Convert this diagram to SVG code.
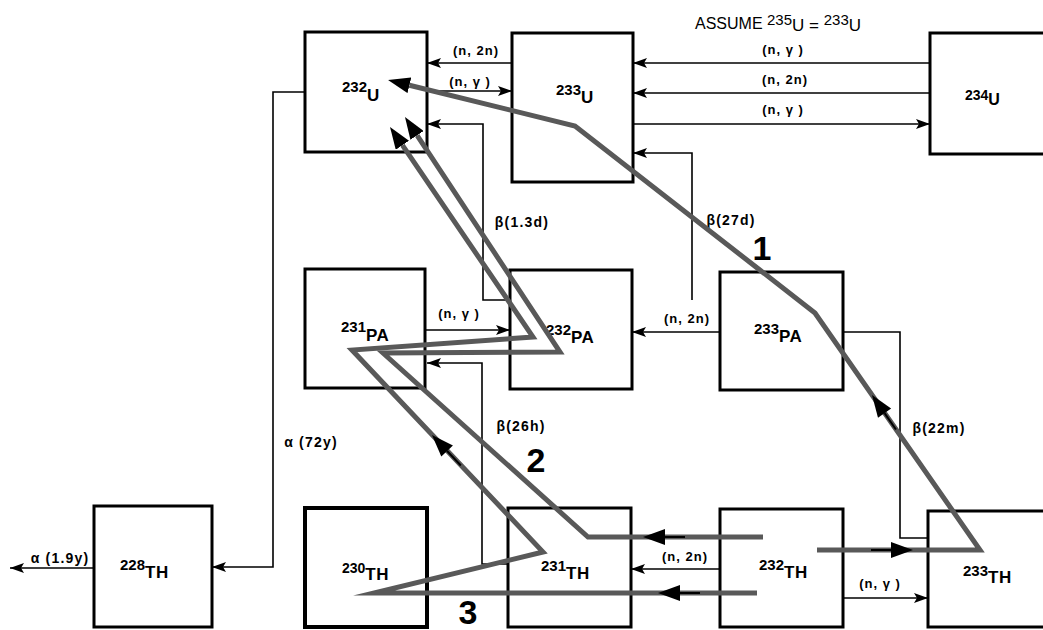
<svg xmlns="http://www.w3.org/2000/svg" xmlns:xlink="http://www.w3.org/1999/xlink" width="1043" height="630" viewBox="0 0 1043 630">
<style>
.box{fill:#fff;stroke:#000;stroke-width:3}
.conn{fill:none;stroke:#000;stroke-width:1.6}
.gp{fill:none;stroke:#595959;stroke-width:5;stroke-linejoin:miter;stroke-miterlimit:12}
.nl{font-family:"Liberation Sans",Arial,sans-serif;fill:#000;font-weight:bold}
.dg{font-size:15px}
.el{font-size:17px;letter-spacing:0.5px}
.lb{font-family:"Liberation Sans",Arial,sans-serif;font-size:13px;font-weight:bold;letter-spacing:1px;fill:#000;text-anchor:middle}
.bl{font-family:"Liberation Sans",Arial,sans-serif;font-size:14px;font-weight:bold;letter-spacing:1.2px;fill:#000;text-anchor:middle}
.num{font-family:"Liberation Sans",Arial,sans-serif;font-size:34px;font-weight:bold;fill:#000;text-anchor:middle}
</style>
<defs>
<marker id="ah" viewBox="0 0 14 10" refX="14" refY="5" markerWidth="14" markerHeight="10" markerUnits="userSpaceOnUse" orient="auto"><path d="M0,0 L14,5 L0,10 L3,5 z" fill="#000"/></marker>
<marker id="gh" viewBox="0 0 22 16" refX="0" refY="8" markerWidth="22" markerHeight="16" markerUnits="userSpaceOnUse" orient="auto"><path d="M0,0 L22,8 L0,16 z" fill="#000"/></marker>
<g id="ma"><line x1="-22" y1="0" x2="-42" y2="0" stroke="#000" stroke-width="2"/><polygon points="0,0 -22,-8 -22,8" fill="#000"/></g>
</defs>
<rect width="1043" height="630" fill="#fff"/>

<g id="n232U"><rect class="box" x="305" y="32" width="122" height="120"/><text class="nl" x="342" y="92"><tspan class="dg">232</tspan><tspan class="el" dy="9">U</tspan></text></g>
<g id="n233U"><rect class="box" x="512" y="33" width="121" height="149"/><text class="nl" x="556" y="95"><tspan class="dg">233</tspan><tspan class="el" dy="8">U</tspan></text></g>
<g id="n234U"><rect class="box" x="930" y="33" width="130" height="121"/><text class="nl" x="965" y="100"><tspan class="dg" style="font-size:14px">234</tspan><tspan class="el" style="font-size:16px" dy="5">U</tspan></text></g>
<g id="n231PA"><rect class="box" x="305" y="269" width="120" height="119"/><text class="nl" x="341" y="332"><tspan class="dg">231</tspan><tspan class="el" dy="9">PA</tspan></text></g>
<g id="n232PA"><rect class="box" x="510" y="270" width="122" height="119"/><text class="nl" x="546" y="335"><tspan class="dg">232</tspan><tspan class="el" dy="8">PA</tspan></text></g>
<g id="n233PA"><rect class="box" x="720" y="272" width="123" height="118"/><text class="nl" x="754" y="334"><tspan class="dg">233</tspan><tspan class="el" dy="8">PA</tspan></text></g>
<g id="n228TH"><rect class="box" x="94" y="506" width="118" height="121"/><text class="nl" x="120" y="570"><tspan class="dg">228</tspan><tspan class="el" dy="8">TH</tspan></text></g>
<g id="n230TH"><rect class="box" x="305" y="508" width="122" height="119" style="stroke-width:4"/><text class="nl" x="342" y="573"><tspan class="dg" style="font-size:14px">230</tspan><tspan class="el" style="font-size:17px" dy="7">TH</tspan></text></g>
<g id="n231TH"><rect class="box" x="508" y="508" width="123" height="119"/><text class="nl" x="541" y="571"><tspan class="dg">231</tspan><tspan class="el" dy="8">TH</tspan></text></g>
<g id="n232TH"><rect class="box" x="720" y="509" width="123" height="118"/><text class="nl" x="759" y="570"><tspan class="dg">232</tspan><tspan class="el" dy="8">TH</tspan></text></g>
<g id="n233TH"><rect class="box" x="928" y="511" width="130" height="116"/><text class="nl" x="963" y="576"><tspan class="dg">233</tspan><tspan class="el" dy="7">TH</tspan></text></g>

<g id="connectors">
<path class="conn" d="M512,63 H427" marker-end="url(#ah)"/>
<path class="conn" d="M427,91 H512" marker-end="url(#ah)"/>
<path class="conn" d="M930,63 H633" marker-end="url(#ah)"/>
<path class="conn" d="M930,93 H633" marker-end="url(#ah)"/>
<path class="conn" d="M633,124 H930" marker-end="url(#ah)"/>
<path class="conn" d="M510,300 H483 V124 H427" marker-end="url(#ah)"/>
<path class="conn" d="M692,300 V153 H633" marker-end="url(#ah)"/>
<path class="conn" d="M720,332 H632" marker-end="url(#ah)"/>
<path class="conn" d="M425,330 H510" marker-end="url(#ah)"/>
<path class="conn" d="M843,332 H900 V538 H928"/>
<path class="conn" d="M508,564 H482 V363 H427" marker-end="url(#ah)"/>
<path class="conn" d="M305,92 H273 V567 H212" marker-end="url(#ah)"/>
<path class="conn" d="M94,568 H10" marker-end="url(#ah)"/>
<path class="conn" d="M720,569 H631" marker-end="url(#ah)"/>
<path class="conn" d="M843,598 H928" marker-end="url(#ah)"/>
<text class="lb" x="476" y="55">(n, 2n)</text>
<text class="lb" x="470" y="86">(n, γ )</text>
<text x="695" y="29" style="font-family:'Liberation Sans',Arial,sans-serif;font-size:16px;fill:#000">ASSUME <tspan style="font-size:15px" dy="-4">235</tspan><tspan style="font-size:17px" dy="6">U = </tspan><tspan style="font-size:15px" dy="-6">233</tspan><tspan style="font-size:17px" dy="6">U</tspan></text>
<text class="lb" x="783" y="54">(n, γ )</text>
<text class="lb" x="785" y="84">(n, 2n)</text>
<text class="lb" x="783" y="114">(n, γ )</text>
<text class="bl" x="522" y="227">β(1.3d)</text>
<text class="bl" x="731" y="225">β(27d)</text>
<text class="lb" x="687" y="323">(n, 2n)</text>
<text class="lb" x="459" y="318">(n, γ )</text>
<text class="bl" x="939" y="433">β(22m)</text>
<text class="bl" x="521" y="431">β(26h)</text>
<text class="bl" x="311" y="447">α (72y)</text>
<text class="bl" x="60" y="563">α (1.9y)</text>
<text class="lb" x="685" y="561">(n, 2n)</text>
<text class="lb" x="880" y="588">(n, γ )</text>
</g>

<g id="paths">
<path class="gp" d="M817,550 L980,550 L815,313 L575,126 L409.4,85.3" marker-end="url(#gh)"/>
<path class="gp" d="M763,537 L588,537 L383,353 L560,352 L417.1,135.4" marker-end="url(#gh)"/>
<path class="gp" d="M757,593 L374,593 L543,552 L352,350 L533,337 L402.4,145.2" marker-end="url(#gh)"/>
<use xlink:href="#ma" transform="translate(913,550)"/>
<use xlink:href="#ma" transform="translate(872,395) rotate(-124.8)"/>
<use xlink:href="#ma" transform="translate(643,537) rotate(180)"/>
<use xlink:href="#ma" transform="translate(658,593) rotate(180)"/>
<use xlink:href="#ma" transform="translate(432,435) rotate(-133.4)"/>
<text class="num" x="762" y="260">1</text>
<text class="num" x="536" y="472">2</text>
<text class="num" x="468" y="624">3</text>
</g>
</svg>
